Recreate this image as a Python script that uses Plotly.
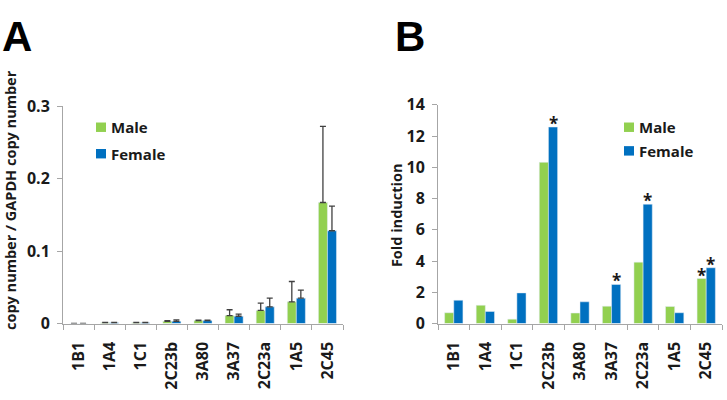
import plotly.graph_objects as go

categories = ["1B1", "1A4", "1C1", "2C23b", "3A80", "3A37", "2C23a", "1A5", "2C45"]

# Panel A: copy number / GAPDH copy number
a_male = [0.0, 0.001, 0.001, 0.003, 0.004, 0.011, 0.018, 0.030, 0.167]
a_female = [0.0, 0.001, 0.001, 0.003, 0.004, 0.010, 0.023, 0.035, 0.128]
a_male_err = [0.0, 0.0006, 0.0004, 0.0008, 0.0008, 0.008, 0.010, 0.028, 0.105]
a_female_err = [0.0, 0.0004, 0.0004, 0.002, 0.0006, 0.003, 0.012, 0.011, 0.034]

# Panel B: fold induction
b_male = [0.69, 1.17, 0.28, 10.32, 0.67, 1.11, 3.93, 1.09, 2.88]
b_female = [1.49, 0.77, 1.96, 12.58, 1.39, 2.50, 7.64, 0.69, 3.57]
b_male_sig = [False, False, False, False, False, False, False, False, True]
b_female_sig = [False, False, False, True, False, True, True, False, True]

GREEN = "#92D050"
BLUE = "#0070C0"
FONT = "Open Sans"
LETTER_FONT = "Liberation Sans"
AXC = "#a6a6a6"
TXT = "#1a1a1a"

fig = go.Figure()

err_style = dict(type="data", symmetric=False, color="#404040", thickness=1.3, width=3)

fig.add_trace(go.Bar(x=categories, y=a_male, name="Male", marker_color=GREEN,
                     error_y=dict(array=a_male_err, arrayminus=[0]*len(a_male), **err_style),
                     xaxis="x", yaxis="y", showlegend=False))
fig.add_trace(go.Bar(x=categories, y=a_female, name="Female", marker_color=BLUE,
                     error_y=dict(array=a_female_err, arrayminus=[0]*len(a_female), **err_style),
                     xaxis="x", yaxis="y", showlegend=False))
fig.add_trace(go.Bar(x=categories, y=b_male, name="Male", marker_color=GREEN,
                     xaxis="x2", yaxis="y2", showlegend=False))
fig.add_trace(go.Bar(x=categories, y=b_female, name="Female", marker_color=BLUE,
                     xaxis="x2", yaxis="y2", showlegend=False))

W, H = 727, 400
ax_common = dict(showline=True, linecolor=AXC, linewidth=1, ticks="outside",
                 tickcolor=AXC, ticklen=5, showgrid=False, zeroline=False,
                 tickfont=dict(family=FONT, size=16, color=TXT, weight="bold"))

fig.update_layout(
    width=W, height=H, margin=dict(l=0, r=0, t=0, b=0),
    plot_bgcolor="white", paper_bgcolor="white",
    barmode="group", bargap=0.42, bargroupgap=0,
    xaxis=dict(domain=[63/W, 343/W], anchor="y", type="category",
               tickson="boundaries", tickangle=-90, ticklabelstandoff=11, **ax_common),
    yaxis=dict(domain=[1-330.7/H, 1-100.7/H], anchor="x", range=[0, 0.3],
               tickvals=[0, 0.1, 0.2, 0.3], ticktext=["0", "0.1", "0.2", "0.3"],
               ticklabelstandoff=4, **ax_common),
    xaxis2=dict(domain=[438/W, 722/W], anchor="y2", type="category",
                tickson="boundaries", tickangle=-90, ticklabelstandoff=11, **ax_common),
    yaxis2=dict(domain=[1-330.7/H, 1-99.3/H], anchor="x2", range=[0, 14],
                tickvals=list(range(0, 15, 2)), ticklabelstandoff=4, **ax_common),
)

ann = []
# Panel letters
ann.append(dict(text="A", x=0/W, y=1, xref="paper", yref="paper", xanchor="left", yanchor="top",
                showarrow=False, font=dict(family=LETTER_FONT, size=42, color="black", weight="bold")))
ann.append(dict(text="B", x=393/W, y=1, xref="paper", yref="paper", xanchor="left", yanchor="top",
                showarrow=False, font=dict(family=LETTER_FONT, size=42, color="black", weight="bold")))
# Y titles
ann.append(dict(text="copy number / GAPDH copy number", x=10/W, y=1-200/H, xref="paper", yref="paper",
                textangle=-90, showarrow=False, xanchor="center", yanchor="middle",
                font=dict(family=FONT, size=14.5, color=TXT, weight="bold")))
ann.append(dict(text="Fold induction", x=396/W, y=1-216/H, xref="paper", yref="paper",
                textangle=-90, showarrow=False, xanchor="center", yanchor="middle",
                font=dict(family=FONT, size=14.5, color=TXT, weight="bold")))

# Legends (drawn as squares + text)
def legend(x0, y0, label, color):
    fig.add_shape(type="rect", xref="paper", yref="paper",
                  x0=x0/W, x1=(x0+10)/W, y0=1-(y0+5)/H, y1=1-(y0-5)/H,
                  fillcolor=color, line=dict(width=0))
    ann.append(dict(text=label, x=(x0+13)/W, y=1-y0/H, xref="paper", yref="paper",
                    xanchor="left", yanchor="middle", showarrow=False,
                    font=dict(family=FONT, size=15, color=TXT, weight="bold")))

legend(96, 123, "Male", GREEN)
legend(96, 151, "Female", BLUE)
legend(624, 123, "Male", GREEN)
legend(624, 148, "Female", BLUE)

# Asterisks in panel B
cat_w = (722 - 438) / len(categories)
bar_off = cat_w * (1 - 0.42) / 4
for cat, v, s in zip(categories, b_male, b_male_sig):
    if s:
        ann.append(dict(text="*", x=cat, y=v, xref="x2", yref="y2", xshift=-bar_off, yshift=-10,
                        yanchor="bottom", showarrow=False,
                        font=dict(family=FONT, size=17, color=TXT, weight="bold")))
for cat, v, s in zip(categories, b_female, b_female_sig):
    if s:
        ann.append(dict(text="*", x=cat, y=v, xref="x2", yref="y2", xshift=bar_off, yshift=-10,
                        yanchor="bottom", showarrow=False,
                        font=dict(family=FONT, size=17, color=TXT, weight="bold")))

fig.update_layout(annotations=ann)
fig.write_html("out.html")
